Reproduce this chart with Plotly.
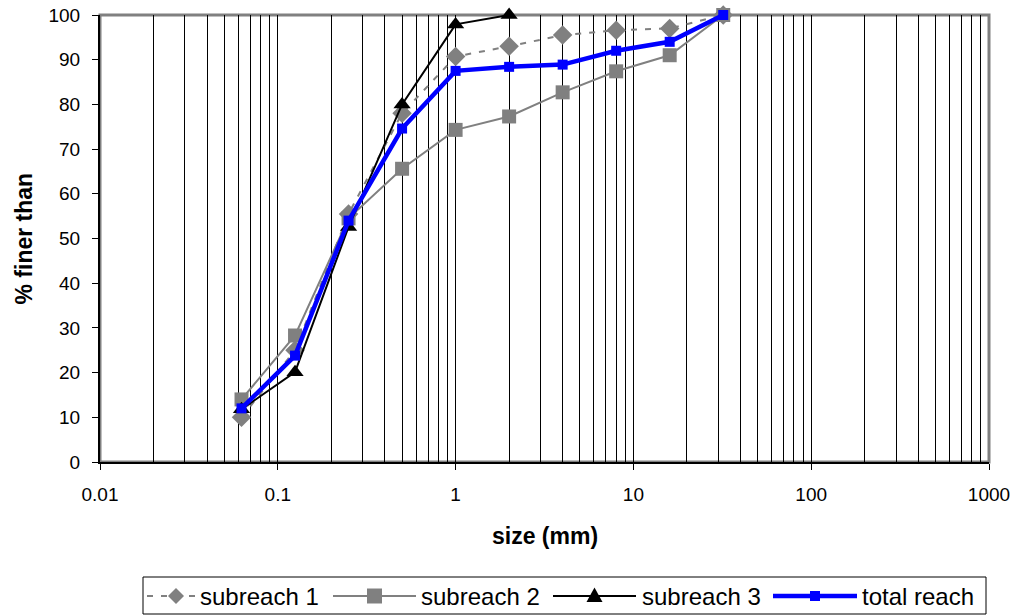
import plotly.graph_objects as go

# Sieve sizes (mm) and cumulative percent finer for each reach
sizes = [0.0625, 0.125, 0.25, 0.5, 1, 2, 4, 8, 16, 32]
subreach1 = [10, 25, 55.5, 78, 90.7, 93, 95.5, 96.6, 97, 100]
subreach2 = [14, 28.3, 54.5, 65.6, 74.3, 77.3, 82.7, 87.4, 91, 100]
subreach3_sizes = [0.0625, 0.125, 0.25, 0.5, 1, 2]
subreach3 = [11.8, 20.1, 52.6, 80, 97.9, 100]
total_reach = [12, 23.8, 54, 74.6, 87.5, 88.4, 88.9, 92, 94, 100]

series_names = ["subreach 1", "subreach 2", "subreach 3", "total reach"]

decade_ticks = [0.01, 0.1, 1, 10, 100, 1000]
decade_labels = ["0.01", "0.1", "1", "10", "100", "1000"]
minor_ticks = [m * d for d in [0.01, 0.1, 1, 10, 100] for m in range(2, 10)]

FONT = "Liberation Sans, Arial, sans-serif"
GREY = "#808080"
BLUE = "#0000ff"

W, H = 1021, 616
ML, MR, MT, MB = 100, 32, 15, 154
PW, PH = W - ML - MR, H - MT - MB


def px(x):
    """page x pixel -> paper coordinate"""
    return (x - ML) / PW


def py(y):
    """page y pixel (from top) -> paper coordinate"""
    return (H - MB - y) / PH


styles = [
    dict(line=dict(color=GREY, width=2, dash="6px,8px"),
         marker=dict(symbol="diamond", size=15, color=GREY)),
    dict(line=dict(color=GREY, width=2),
         marker=dict(symbol="square", size=14, color=GREY)),
    dict(line=dict(color="black", width=2),
         marker=dict(symbol="triangle-up", size=15, color="black")),
    dict(line=dict(color=BLUE, width=4.5),
         marker=dict(symbol="square", size=10, color=BLUE)),
]
xs = [sizes, sizes, subreach3_sizes, sizes]
ys = [subreach1, subreach2, subreach3, total_reach]

fig = go.Figure()
for name, x, y, st in zip(series_names, xs, ys, styles):
    fig.add_trace(go.Scatter(x=x, y=y, name=name, mode="lines+markers",
                             showlegend=False, cliponaxis=False, **st))

# grey plot-area frame
fig.add_shape(type="rect", xref="paper", yref="paper", x0=0, x1=1, y0=0, y1=1,
              line=dict(color=GREY, width=3), layer="below")

# ---- legend drawn as a boxed row under the axis title ----
LEG_Y = 596
fig.add_shape(type="rect", xref="paper", yref="paper",
              x0=px(143), x1=px(986), y0=py(614), y1=py(577),
              line=dict(color="black", width=1), fillcolor="white")

leg_items = [  # (line start, line end, text start) in page pixels
    (147, 196, 198),
    (333, 416, 419),
    (553, 636, 640),
    (773, 857, 860),
]


def marker_path(kind, cx, cy, r):
    if kind == "diamond":
        pts = [(cx, cy - r), (cx + r, cy), (cx, cy + r), (cx - r, cy)]
    elif kind == "square":
        pts = [(cx - r, cy - r), (cx + r, cy - r), (cx + r, cy + r), (cx - r, cy + r)]
    else:  # triangle-up
        pts = [(cx, cy - r * 1.05), (cx + r, cy + r * 0.75), (cx - r, cy + r * 0.75)]
    return "M " + " L ".join(f"{px(a):.5f},{py(b):.5f}" for a, b in pts) + " Z"


leg_markers = [("diamond", 8), ("square", 7.5), ("triangle", 8), ("square", 5)]
for (x0, x1, tx), name, st, (kind, r) in zip(leg_items, series_names, styles, leg_markers):
    ln = st["line"]
    fig.add_shape(type="line", xref="paper", yref="paper",
                  x0=px(x0), x1=px(x1), y0=py(LEG_Y), y1=py(LEG_Y),
                  line=dict(color=ln["color"], width=ln["width"],
                            dash=ln.get("dash", "solid")))
    cx = (x0 + x1) / 2 if x0 > 150 else 176
    fig.add_shape(type="path", xref="paper", yref="paper",
                  path=marker_path(kind, cx, LEG_Y, r),
                  line=dict(width=0), fillcolor=st["marker"]["color"])
    fig.add_annotation(text=name, xref="paper", yref="paper",
                       x=px(tx), y=py(LEG_Y), xanchor="left", yanchor="middle",
                       showarrow=False, font=dict(size=24, color="black"))

# axis titles
fig.add_annotation(text="<b>size (mm)</b>", xref="paper", yref="paper",
                   x=0.5, y=py(536), xanchor="center", yanchor="middle",
                   showarrow=False, font=dict(size=23))
fig.add_annotation(text="<b>% finer than</b>", xref="paper", yref="paper",
                   x=px(23), y=0.5, xanchor="center", yanchor="middle",
                   textangle=-90, showarrow=False, font=dict(size=23))

fig.update_layout(
    width=W, height=H,
    margin=dict(l=ML, r=MR, t=MT, b=MB, autoexpand=False),
    paper_bgcolor="white", plot_bgcolor="white",
    font=dict(family=FONT, size=19, color="black"),
    showlegend=False,
    xaxis=dict(
        type="log", range=[-2, 3], automargin=False,
        tickvals=decade_ticks, ticktext=decade_labels,
        showgrid=True, gridcolor="black", gridwidth=1,
        minor=dict(tickvals=minor_ticks, showgrid=True, gridcolor="black",
                   gridwidth=1, ticks=""),
        ticks="outside", ticklen=6, tickcolor="black", tickwidth=1,
        ticklabelstandoff=8,
        showline=True, linecolor="black", linewidth=2,
        zeroline=False,
    ),
    yaxis=dict(
        range=[0, 100], dtick=10, tick0=0, automargin=False,
        showgrid=False, zeroline=False,
        ticks="outside", ticklen=6, tickcolor="black", tickwidth=1,
        ticklabelstandoff=8,
        showline=True, linecolor="black", linewidth=2,
    ),
)

fig.write_html("out.html")
